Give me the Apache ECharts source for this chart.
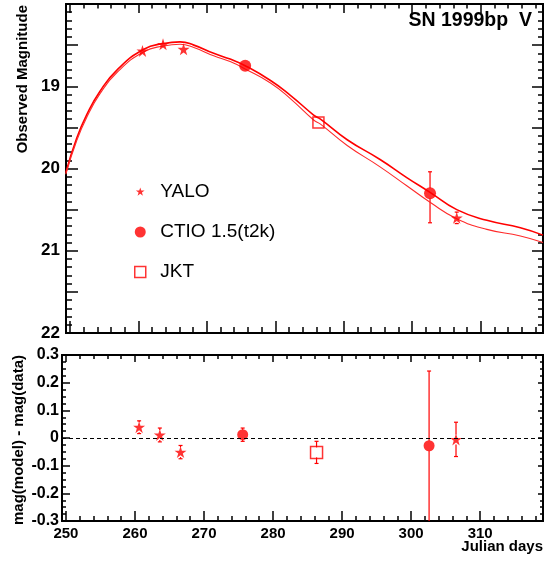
<!DOCTYPE html>
<html>
<head>
<meta charset="utf-8">
<script src="https://cdn.jsdelivr.net/npm/echarts@6/dist/echarts.min.js"></script>
<style>
html, body { margin: 0; padding: 0; background: #fff; }
#chart { width: 556px; height: 561px; }
</style>
</head>
<body>
<div id="chart"></div>
<script>
var curveDays = [249.4, 251.0, 252.5, 254.4, 256.9, 260.8, 263.7, 266.1, 268.1, 271.0, 273.4, 275.6,
                 279.3, 282.2, 285.6, 286.6, 290.5, 295.3, 299.2, 302.6, 306.5, 310.9, 315.8, 319.1];
var curveHi = [20.05, 19.63, 19.34, 19.06, 18.80, 18.55, 18.48, 18.46, 18.50, 18.60, 18.67, 18.75,
               18.93, 19.11, 19.35, 19.40, 19.65, 19.89, 20.11, 20.29, 20.50, 20.63, 20.72, 20.81];
var curveLo = [20.07, 19.66, 19.37, 19.09, 18.83, 18.58, 18.51, 18.49, 18.53, 18.63, 18.70, 18.79,
               18.96, 19.15, 19.41, 19.46, 19.72, 19.98, 20.21, 20.41, 20.61, 20.74, 20.82, 20.90];

// photometry per telescope; errors as [toward smaller value, toward larger value]
var yaloDays = [260.6, 263.6, 266.6, 306.5];
var yaloMag = [18.57, 18.49, 18.55, 20.60];
var yaloErrDn = [0.02, 0.02, 0.02, 0.07];
var yaloErrUp = [0.02, 0.02, 0.02, 0.07];
var yaloResid = [0.039, 0.011, -0.051, -0.005];
var yaloResidErrDn = [0.023, 0.025, 0.024, 0.062];
var yaloResidErrUp = [0.023, 0.025, 0.024, 0.062];

var ctioDays = [275.6, 302.6];
var ctioMag = [18.75, 20.30];
var ctioErrDn = [0.02, 0.26];
var ctioErrUp = [0.02, 0.36];
var ctioResid = [0.012, -0.028];
var ctioResidErrDn = [0.024, 0.36];
var ctioResidErrUp = [0.024, 0.27];

var jktDays = [286.3];
var jktMag = [19.44];
var jktErrDn = [0.03];
var jktErrUp = [0.03];
var jktResid = [-0.052];
var jktResidErrDn = [0.04];
var jktResidErrUp = [0.04];

// ticks
var dayTicks = [250, 260, 270, 280, 290, 300, 310];
var dayMinorTicks = [252, 254, 256, 258, 262, 264, 266, 268, 272, 274, 276, 278, 282, 284, 286, 288,
                     292, 294, 296, 298, 302, 304, 306, 308, 312, 314, 316, 318];
var magLabels = [19, 20, 21, 22];

var RED = '#ff0000';
var FONT = '"Liberation Sans", Arial, Helvetica, sans-serif';
var X_MIN = 249.43, X_MAX = 319.1;
var STAR = 'path://M50,0 L61.2,34.5 L97.6,34.5 L68.2,55.9 L79.4,90.5 L50,69.1 L20.6,90.5 L31.8,55.9 L2.4,34.5 L38.8,34.5 Z';
var STAR_SMALL = 'path://M-10,-10 M110,110 M50,0 L61.2,34.5 L97.6,34.5 L68.2,55.9 L79.4,90.5 L50,69.1 L20.6,90.5 L31.8,55.9 L2.4,34.5 L38.8,34.5 Z';
var CIRCLE = 'path://M50,0 A50,50 0 1,1 50,100 A50,50 0 1,1 50,0 Z';
var SQUARE = 'path://M0,0 L100,0 L100,100 L0,100 Z';

function zip(xs, ys) {
  return xs.map(function (x, i) { return [x, ys[i]]; });
}
function zip4(xs, ys, dn, up) {
  return xs.map(function (x, i) { return [x, ys[i], dn[i], up[i]]; });
}

var frameLine = { show: true, onZero: false, lineStyle: { color: '#000', width: 2 } };
var tickLine = { color: '#000', width: 1.5 };

function dayAxis(grid, pos, ticks, len, labels) {
  return {
    type: 'value', gridIndex: grid, position: pos, min: X_MIN, max: X_MAX,
    axisLine: frameLine,
    axisTick: { show: true, inside: true, length: len, customValues: ticks, lineStyle: tickLine },
    axisLabel: {
      show: !!labels, customValues: dayTicks, margin: 5, color: '#000',
      fontFamily: FONT, fontWeight: 'bold', fontSize: 15
    },
    splitLine: { show: false }
  };
}

function magAxis(pos, len, minorLen, labels) {
  return {
    type: 'value', gridIndex: 0, position: pos, inverse: true, min: 18, max: 22, interval: 0.5,
    axisLine: frameLine,
    axisTick: { show: true, inside: true, length: len, lineStyle: tickLine },
    minorTick: { show: true, splitNumber: 5, length: minorLen, lineStyle: tickLine },
    axisLabel: {
      show: labels, customValues: magLabels, margin: 6, color: '#000',
      fontFamily: FONT, fontWeight: 'bold', fontSize: 17
    },
    splitLine: { show: false }, minorSplitLine: { show: false }
  };
}

function residAxis(pos, len, minorLen, labels) {
  return {
    type: 'value', gridIndex: 1, position: pos, min: -0.3, max: 0.3, interval: 0.1,
    axisLine: frameLine,
    axisTick: { show: true, inside: true, length: len, lineStyle: tickLine },
    minorTick: { show: true, splitNumber: 4, length: minorLen, lineStyle: tickLine },
    axisLabel: {
      show: labels, margin: 3, color: '#000',
      fontFamily: FONT, fontWeight: 'bold', fontSize: 16
    },
    splitLine: { show: false }, minorSplitLine: { show: false }
  };
}

// vertical error bars with small end caps, left open where the marker sits (ROOT style)
function errorBars(xi, yi, data, gap) {
  return {
    type: 'custom', xAxisIndex: xi, yAxisIndex: yi, data: data, silent: true, z: 2,
    renderItem: function (params, api) {
      var x = api.value(0), y = api.value(1);
      var c = api.coord([x, y]);
      var a = api.coord([x, y - api.value(2)]);
      var b = api.coord([x, y + api.value(3)]);
      var cs = params.coordSys;
      var top = cs.y, bot = cs.y + cs.height;
      var y1 = Math.min(a[1], b[1]), y2 = Math.max(a[1], b[1]);
      var st = { stroke: RED, lineWidth: 1.2 };
      var kids = [];
      if (y1 < c[1] - gap) {
        kids.push({ type: 'line', style: st, shape: { x1: c[0], y1: Math.max(y1, top), x2: c[0], y2: c[1] - gap } });
        if (y1 >= top) kids.push({ type: 'line', style: st, shape: { x1: c[0] - 2, y1: y1, x2: c[0] + 2, y2: y1 } });
      }
      if (y2 > c[1] + gap) {
        kids.push({ type: 'line', style: st, shape: { x1: c[0], y1: c[1] + gap, x2: c[0], y2: Math.min(y2, bot) } });
        if (y2 <= bot) kids.push({ type: 'line', style: st, shape: { x1: c[0] - 2, y1: y2, x2: c[0] + 2, y2: y2 } });
      }
      return { type: 'group', children: kids };
    }
  };
}

function markers(name, xi, yi, data, symbol, size, style) {
  return {
    type: 'scatter', name: name, xAxisIndex: xi, yAxisIndex: yi, data: data,
    symbol: symbol, symbolSize: size, itemStyle: style, z: 4, silent: true
  };
}

function modelLine(name, values, color, width) {
  return {
    type: 'line', name: name, xAxisIndex: 0, yAxisIndex: 0, data: zip(curveDays, values),
    showSymbol: false, smooth: 0.5, silent: true,
    lineStyle: { color: color, width: width }, z: 3
  };
}

var solid = { color: RED };
var hollow = { color: 'rgba(255,255,255,0)', borderColor: RED, borderWidth: 1.5 };

var chart = echarts.init(document.getElementById('chart'));

chart.setOption({
  animation: false,
  backgroundColor: '#fff',
  grid: [
    { left: 66, top: 4, width: 477, height: 329 },
    { left: 62, top: 355, width: 481, height: 166 }
  ],
  xAxis: [
    dayAxis(0, 'bottom', dayTicks, 12, false),
    dayAxis(0, 'bottom', dayMinorTicks, 6, false),
    dayAxis(0, 'top', dayTicks, 9, false),
    dayAxis(0, 'top', dayMinorTicks, 4.5, false),
    dayAxis(1, 'bottom', dayTicks, 10, true),
    dayAxis(1, 'bottom', dayMinorTicks, 5, false),
    dayAxis(1, 'top', dayTicks, 7, false),
    dayAxis(1, 'top', dayMinorTicks, 4, false)
  ],
  yAxis: [
    magAxis('left', 12, 6, true),
    magAxis('right', 11, 5, false),
    residAxis('left', 8, 4, true),
    residAxis('right', 5, 3, false)
  ],
  legend: {
    orient: 'vertical', left: 129, top: 177, itemWidth: 30, itemHeight: 11, itemGap: 20,
    selectedMode: false,
    textStyle: { fontFamily: FONT, fontSize: 19, color: '#000', lineHeight: 20 },
    data: [
      { name: 'YALO', icon: STAR_SMALL, itemStyle: solid },
      { name: 'CTIO 1.5(t2k)', icon: CIRCLE, itemStyle: solid },
      { name: 'JKT', icon: SQUARE, itemStyle: hollow }
    ]
  },
  graphic: [
    { type: 'text', x: 532, y: 21, style: { text: 'SN 1999bp  V', font: 'bold 19.5px ' + FONT, fill: '#000',
      align: 'right', textAlign: 'right', verticalAlign: 'middle', textVerticalAlign: 'middle' } },
    { type: 'text', x: 23, y: 5, rotation: Math.PI / 2, style: { text: 'Observed Magnitude', font: 'bold 15px ' + FONT,
      fill: '#000', align: 'right', textAlign: 'right', verticalAlign: 'middle', textVerticalAlign: 'middle' } },
    { type: 'text', x: 19, y: 355, rotation: Math.PI / 2, style: { text: 'mag(model) - mag(data)', font: 'bold 15px ' + FONT,
      fill: '#000', align: 'right', textAlign: 'right', verticalAlign: 'middle', textVerticalAlign: 'middle' } },
    { type: 'text', x: 543, y: 547, style: { text: 'Julian days', font: 'bold 15px ' + FONT, fill: '#000',
      align: 'right', textAlign: 'right', verticalAlign: 'middle', textVerticalAlign: 'middle' } }
  ],
  series: [
    modelLine('model high', curveHi, RED, 1.6),
    modelLine('model low', curveLo, '#ff2a2a', 1.1),
    errorBars(0, 0, zip4(yaloDays, yaloMag, yaloErrDn, yaloErrUp)
      .concat(zip4(ctioDays, ctioMag, ctioErrDn, ctioErrUp))
      .concat(zip4(jktDays, jktMag, jktErrDn, jktErrUp)), 5),
    markers('YALO', 0, 0, zip(yaloDays, yaloMag), STAR, 12, solid),
    markers('CTIO 1.5(t2k)', 0, 0, zip(ctioDays, ctioMag), 'circle', 12, solid),
    markers('JKT', 0, 0, zip(jktDays, jktMag), 'rect', 11, hollow),

    errorBars(4, 2, zip4(yaloDays, yaloResid, yaloResidErrDn, yaloResidErrUp)
      .concat(zip4(ctioDays, ctioResid, ctioResidErrDn, ctioResidErrUp))
      .concat(zip4(jktDays, jktResid, jktResidErrDn, jktResidErrUp)), 5),
    {
      type: 'scatter', name: 'YALO', xAxisIndex: 4, yAxisIndex: 2, data: zip(yaloDays, yaloResid),
      symbol: STAR, symbolSize: 12, itemStyle: solid, z: 4, silent: true,
      markLine: {
        silent: true, symbol: ['none', 'none'], label: { show: false },
        lineStyle: { color: '#000', width: 1, type: [4, 3] },
        data: [{ yAxis: 0 }]
      }
    },
    markers('CTIO 1.5(t2k)', 4, 2, zip(ctioDays, ctioResid), 'circle', 11, solid),
    markers('JKT', 4, 2, zip(jktDays, jktResid), 'rect', 12, hollow)
  ]
});
</script>
</body>
</html>
